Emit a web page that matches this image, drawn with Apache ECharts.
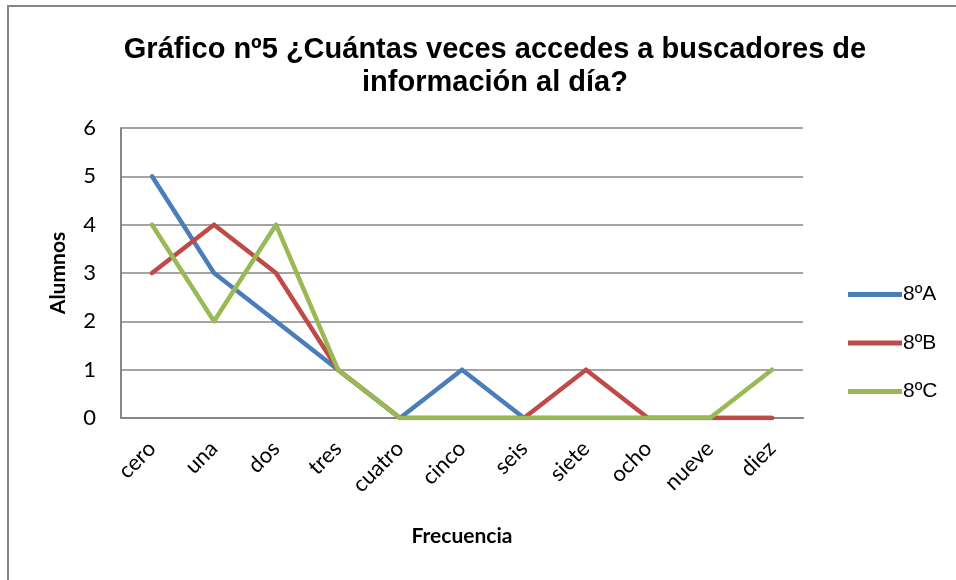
<!DOCTYPE html>
<html>
<head>
<meta charset="utf-8">
<script src="https://cdn.jsdelivr.net/npm/echarts@6/dist/echarts.min.js"></script>
<style>
html,body{margin:0;padding:0;background:#fff;}
#chart{width:956px;height:580px;}
</style>
</head>
<body>
<div id="chart"></div>
<script>
var categories = ['cero','una','dos','tres','cuatro','cinco','seis','siete','ocho','nueve','diez'];
var seriesNames = ['8ºA','8ºB','8ºC'];
var values8A = [5,3,2,1,0,1,0,0,0,0,0];
var values8B = [3,4,3,1,0,0,0,1,0,0,0];
var values8C = [4,2,4,1,0,0,0,0,0,0,1];
var yTicks = [0,1,2,3,4,5,6];
var colors = ['#4A7EBB','#BE4B48','#98B954'];

var chart = echarts.init(document.getElementById('chart'));
var seriesData = [values8A, values8B, values8C];
var textFont = 'Lato, "Open Sans", sans-serif';

chart.setOption({
  animation: false,
  color: colors,
  title: {
    text: 'Gráfico nº5 ¿Cuántas veces accedes a buscadores de\ninformación al día?',
    left: 490,
    top: 28,
    textAlign: 'center',
    textStyle: {
      fontFamily: '"Liberation Sans", Arial, sans-serif',
      fontWeight: 'bold',
      fontSize: 29,
      lineHeight: 33,
      color: '#000'
    }
  },
  graphic: [{
    type: 'rect',
    shape: {x: 8, y: 6, width: 1000, height: 1000},
    style: {fill: 'none', stroke: '#868686', lineWidth: 2},
    silent: true,
    z: -1
  }],
  legend: {
    orient: 'vertical',
    left: 843,
    top: 279,
    itemWidth: 54,
    itemHeight: 12,
    itemGap: 27.5,
    data: seriesNames.map(function(n, i){
      return {name: n, icon: 'path://M0,0 L54,0 L54,5 L0,5 Z', itemStyle: {color: colors[i]}};
    }),
    textStyle: {fontFamily: '"Liberation Sans", Arial, sans-serif', fontSize: 21, color: '#000', padding: [0,0,0,-4]}
  },
  grid: {left: 121, right: 153, top: 128, bottom: 162, containLabel: false},
  xAxis: {
    type: 'category',
    data: categories,
    boundaryGap: true,
    name: 'Frecuencia',
    nameLocation: 'middle',
    nameGap: 108,
    nameTextStyle: {fontFamily: textFont, fontWeight: 'bold', fontSize: 21, color: '#000'},
    axisLine: {lineStyle: {color: '#868686', width: 2}},
    axisTick: {show: false},
    axisLabel: {rotate: 45, margin: 27, fontFamily: textFont, fontSize: 22, color: '#000', interval: 0}
  },
  yAxis: {
    type: 'value',
    min: yTicks[0],
    max: yTicks[yTicks.length - 1],
    interval: 1,
    name: 'Alumnos',
    nameLocation: 'middle',
    nameRotate: 90,
    nameGap: 52,
    nameTextStyle: {fontFamily: textFont, fontWeight: 'bold', fontSize: 21, color: '#000'},
    axisLine: {show: true, lineStyle: {color: '#868686', width: 2}},
    axisTick: {show: false},
    axisLabel: {margin: 25, fontFamily: textFont, fontSize: 22, color: '#000'},
    splitLine: {show: true, lineStyle: {color: '#868686', width: 1.5}}
  },
  series: seriesNames.map(function(n, i){
    return {
      name: n,
      type: 'line',
      data: seriesData[i],
      symbol: 'none',
      lineStyle: {width: 4.5, color: colors[i], cap: 'round', join: 'round'},
      itemStyle: {color: colors[i]},
      z: 2 + i
    };
  })
});
</script>
</body>
</html>
